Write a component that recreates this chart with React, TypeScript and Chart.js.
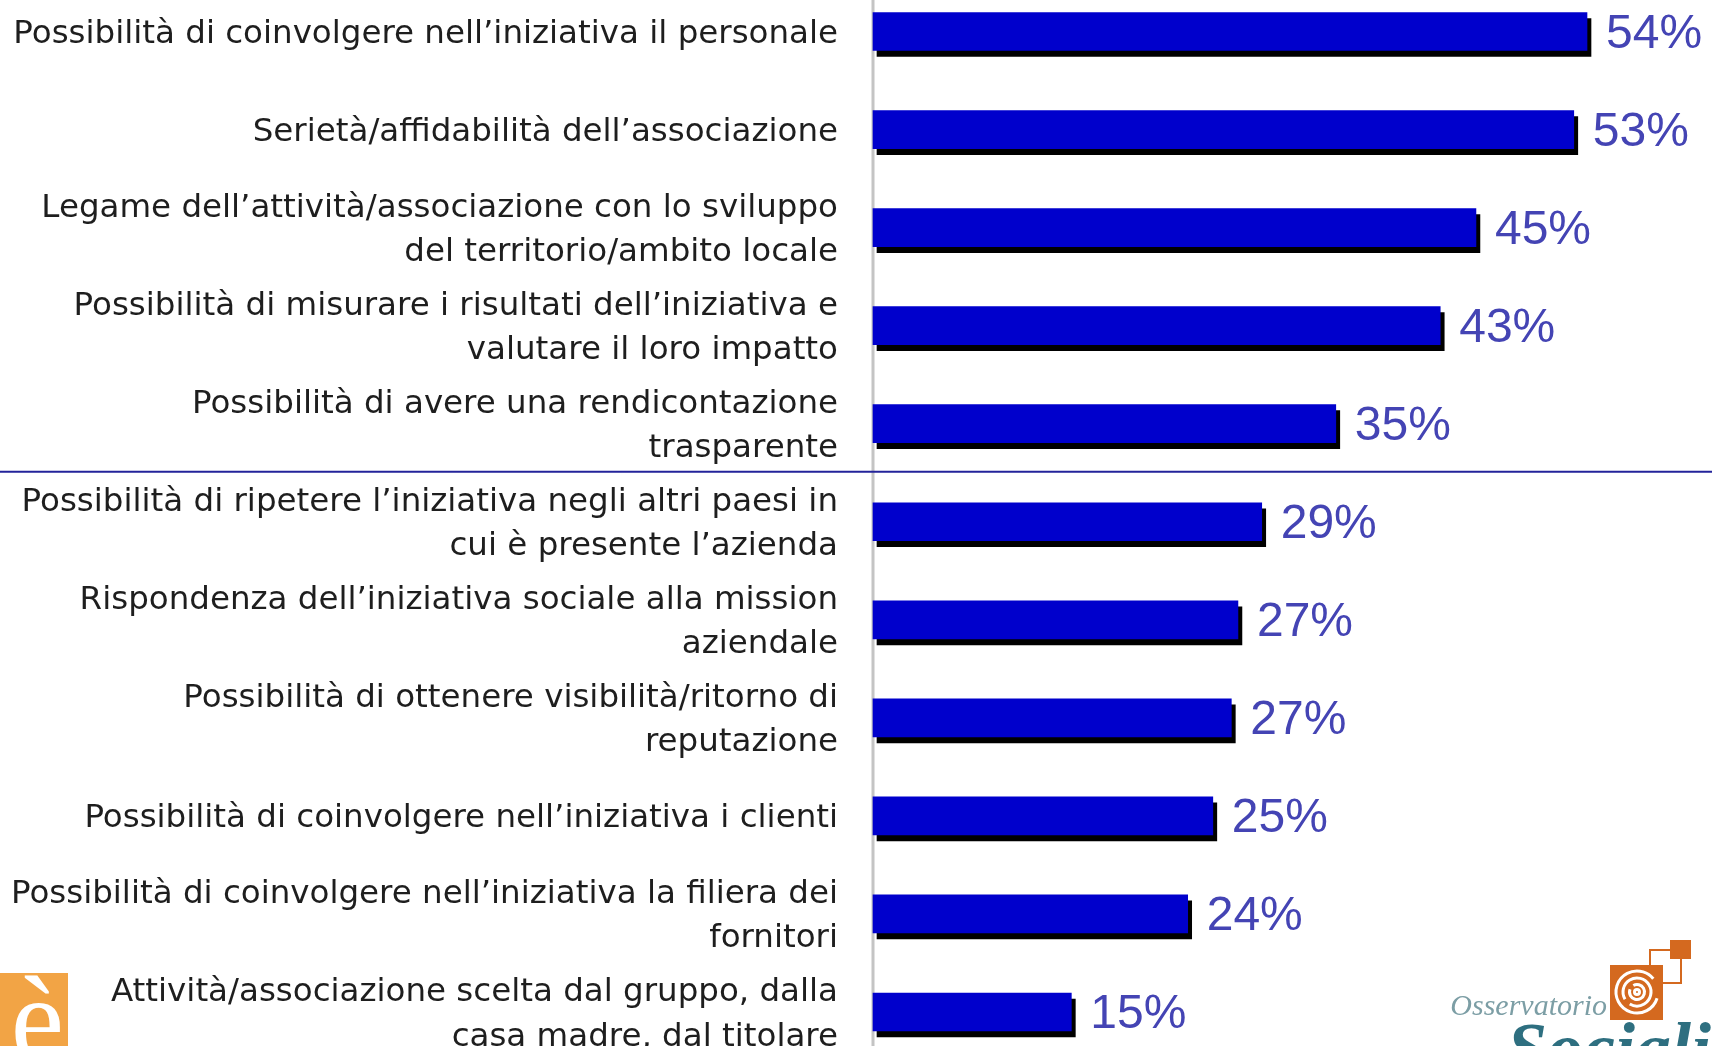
import React, { useEffect, useRef } from "react";
import { Chart, registerables } from "chart.js";

Chart.register(...registerables);

const categories: (string | string[])[] = [
  "Possibilità di coinvolgere nell’iniziativa il personale",
  "Serietà/affidabilità dell’associazione",
  ["Legame dell’attività/associazione con lo sviluppo", "del territorio/ambito locale"],
  ["Possibilità di misurare i risultati dell’iniziativa e", "valutare il loro impatto"],
  ["Possibilità di avere una rendicontazione", "trasparente"],
  ["Possibilità di ripetere l’iniziativa negli altri paesi in", "cui è presente l’azienda"],
  ["Rispondenza dell’iniziativa sociale alla mission", "aziendale"],
  ["Possibilità di ottenere visibilità/ritorno di", "reputazione"],
  "Possibilità di coinvolgere nell’iniziativa i clienti",
  ["Possibilità di coinvolgere nell’iniziativa la filiera dei", "fornitori"],
  ["Attività/associazione scelta dal gruppo, dalla", "casa madre, dal titolare"],
];

// bar lengths as drawn in the picture (percent)
const values: number[] = [54, 53, 45.6, 42.9, 35, 29.4, 27.6, 27.1, 25.7, 23.8, 15];

// printed labels
const valueLabels: string[] = ["54%", "53%", "45%", "43%", "35%", "29%", "27%", "27%", "25%", "24%", "15%"];

// index after which the horizontal separator is drawn
const separatorAfter = 4;

const W = 1712;
const H = 1046;
const AXIS_X = 873;

const backgroundPlugin = {
  id: "decorBefore",
  beforeDatasetsDraw(chart: any) {
    const ctx = chart.ctx;
    const y = chart.scales.y;
    ctx.save();
    ctx.strokeStyle = "#c4c4c4";
    ctx.lineWidth = 3;
    ctx.beginPath();
    ctx.moveTo(chart.chartArea.left, 0);
    ctx.lineTo(chart.chartArea.left, H);
    ctx.stroke();
    const ys =
      (y.getPixelForValue(separatorAfter) + y.getPixelForValue(separatorAfter + 1)) / 2 - 1;
    ctx.strokeStyle = "#23239a";
    ctx.lineWidth = 2;
    ctx.beginPath();
    ctx.moveTo(0, ys);
    ctx.lineTo(W, ys);
    ctx.stroke();
    ctx.restore();
  },
};

const shadowPlugin = {
  id: "barShadow",
  beforeDatasetDraw(chart: any) {
    const c = chart.ctx;
    c.save();
    c.shadowColor = "#000000";
    c.shadowOffsetX = 4;
    c.shadowOffsetY = 6;
    c.shadowBlur = 0;
  },
  afterDatasetDraw(chart: any) {
    chart.ctx.restore();
  },
};

const valueLabelPlugin = {
  id: "valueLabels",
  afterDatasetsDraw(chart: any) {
    const ctx = chart.ctx;
    const meta = chart.getDatasetMeta(0);
    ctx.save();
    ctx.font = '48px "Liberation Sans", Arial, sans-serif';
    ctx.fillStyle = "#4444b4";
    ctx.textAlign = "left";
    ctx.textBaseline = "middle";
    meta.data.forEach((bar: any, i: number) => {
      ctx.fillText(valueLabels[i], bar.x + 19, bar.y + 3);
    });
    ctx.restore();
  },
};

const logoPlugin = {
  id: "logos",
  afterDraw(chart: any) {
    const ctx = chart.ctx;
    ctx.save();
    ctx.fillStyle = "#f2a445";
    ctx.fillRect(0, 973, 68, 73);
    ctx.fillStyle = "#ffffff";
    ctx.font = '120px "Liberation Serif", serif';
    ctx.textAlign = "right";
    ctx.textBaseline = "alphabetic";
    ctx.fillText("è", 64, 1060);

    ctx.strokeStyle = "#d4691f";
    ctx.lineWidth = 2;
    ctx.strokeRect(1650, 950, 31, 33);
    ctx.fillStyle = "#d4691f";
    ctx.fillRect(1670, 940, 21, 19);
    ctx.fillRect(1610, 965, 53, 55);
    ctx.strokeStyle = "#ffffff";
    ctx.lineWidth = 3;
    const cx = 1637;
    const cy = 992;
    [[21, 0.3, 5.6], [14, 2.6, 8.4], [7.5, 4.2, 9.8], [2.5, 0, 6.28]].forEach(([r, a0, a1]) => {
      ctx.beginPath();
      ctx.arc(cx, cy, r, a0, a1);
      ctx.stroke();
    });
    ctx.fillStyle = "#7c9ea5";
    ctx.font = 'italic 30px "Liberation Serif", serif';
    ctx.textAlign = "right";
    ctx.fillText("Osservatorio", 1607, 1015);
    ctx.fillStyle = "#2e6f80";
    ctx.font = 'italic bold 72px "Liberation Serif", serif';
    ctx.textAlign = "left";
    ctx.fillText("Sociali", 1507, 1072);
    ctx.restore();
  },
};

export default function App() {
  const canvasRef = useRef<HTMLCanvasElement | null>(null);

  useEffect(() => {
    document.body.style.margin = "0";
    document.body.style.background = "#ffffff";
    if (!canvasRef.current) return;
    const chart = new Chart(canvasRef.current, {
      type: "bar",
      data: {
        labels: categories,
        datasets: [
          {
            data: values,
            backgroundColor: "#0000cc",
            borderWidth: 0,
            barThickness: 38,
            clip: false as any,
          },
        ],
      },
      options: {
        indexAxis: "y",
        animation: false,
        responsive: true,
        maintainAspectRatio: false,
        layout: { padding: { top: 31.5, bottom: 34, left: 0, right: 6 } },
        plugins: {
          legend: { display: false },
          tooltip: { enabled: false },
        },
        scales: {
          x: {
            display: false,
            min: 0,
            max: 63,
          },
          y: {
            type: "category",
            offset: false,
            grid: { display: false, drawTicks: false },
            border: { display: false },
            ticks: {
              autoSkip: false,
              color: "#1e1e1e",
              padding: 35,
              labelOffset: 3,
              font: { family: '"DejaVu Sans", sans-serif', size: 32.5, lineHeight: 1.36 },
            },
            afterFit(scale: any) {
              scale.width = AXIS_X;
              scale.paddingTop = 0;
              scale.paddingBottom = 0;
            },
          },
        },
      },
      plugins: [backgroundPlugin, shadowPlugin, valueLabelPlugin, logoPlugin],
    });
    return () => chart.destroy();
  }, []);

  return (
    <div style={{ position: "relative", width: W + "px", height: H + "px", background: "#ffffff" }}>
      <canvas ref={canvasRef} />
    </div>
  );
}
